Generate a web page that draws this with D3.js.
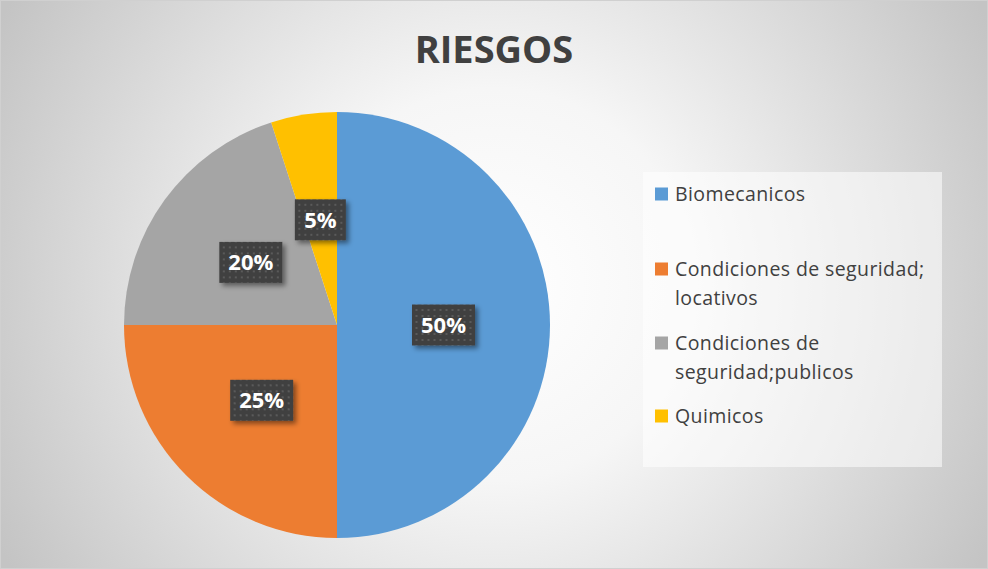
<!DOCTYPE html>
<html><head><meta charset="utf-8">
<script src="https://cdn.jsdelivr.net/npm/d3@7"></script>
<style>html,body{margin:0;padding:0;background:#fff}svg{display:block}</style>
</head><body>
<svg id="c" width="988" height="569"></svg>
<script>
const title = "RIESGOS";
const categories = ["Biomecanicos", "Condiciones de seguridad; locativos", "Condiciones de seguridad;publicos", "Quimicos"];
const legendLines = [["Biomecanicos"], ["Condiciones de seguridad;", "locativos"], ["Condiciones de", "seguridad;publicos"], ["Quimicos"]];
const values = [50, 25, 20, 5];
const colors = ["#5B9BD5", "#ED7D31", "#A5A5A5", "#FFC000"];

const W = 988, H = 569;
const svg = d3.select("#c");
const defs = svg.append("defs");

const rg = defs.append("radialGradient").attr("id","bg").attr("gradientUnits","userSpaceOnUse")
  .attr("cx", W/2).attr("cy", H/2).attr("r", 560);
rg.append("stop").attr("offset","0").attr("stop-color","#ffffff");
rg.append("stop").attr("offset","0.35").attr("stop-color","#f6f6f6");
rg.append("stop").attr("offset","1").attr("stop-color","#c4c4c4");

const pat = defs.append("pattern").attr("id","dots").attr("patternUnits","userSpaceOnUse")
  .attr("width",6).attr("height",6);
pat.append("rect").attr("width",6).attr("height",6).attr("fill","#404040");
pat.append("rect").attr("x",2).attr("y",2).attr("width",2).attr("height",2).attr("fill","#5a5a5a");

const f = defs.append("filter").attr("id","sh").attr("x","-30%").attr("y","-30%").attr("width","160%").attr("height","160%");
f.append("feDropShadow").attr("dx",3).attr("dy",3).attr("stdDeviation",2.5).attr("flood-color","#000").attr("flood-opacity",0.45);

svg.append("rect").attr("x",0.5).attr("y",0.5).attr("width",W-1).attr("height",H-1)
  .attr("fill","url(#bg)").attr("stroke","#d0d0d0");

svg.append("text").attr("x",494).attr("y",63).attr("text-anchor","middle")
  .attr("font-family","'Open Sans', sans-serif").attr("font-weight",700).attr("font-size",38)
  .attr("fill","#404040").text(title);

const cx = 337, cy = 325, r = 213;
const pie = d3.pie().sort(null).value(d => d)(values);
const arc = d3.arc().innerRadius(0).outerRadius(r);
const g = svg.append("g").attr("transform",`translate(${cx},${cy})`);
g.selectAll("path").data(pie).join("path").attr("d",arc).attr("fill",(d,i)=>colors[i]);

const lblArc = d3.arc().innerRadius(r*0.5).outerRadius(r*0.5);
const bw = 63, bh = 41;
const lg = g.selectAll("g.l").data(pie).join("g").attr("class","l")
  .attr("transform", d => { const c = lblArc.centroid(d); return `translate(${c[0]},${c[1]})`; });
lg.append("rect").attr("x", d => -(d.data>=10?bw:51)/2).attr("y",-bh/2)
  .attr("width", d => d.data>=10?bw:51).attr("height",bh)
  .attr("fill","url(#dots)").attr("filter","url(#sh)");
lg.append("text").attr("text-anchor","middle").attr("dy","0.36em")
  .attr("font-family","'Open Sans', sans-serif").attr("font-weight",700).attr("font-size",22)
  .attr("fill","#fff").text(d => d.data + "%");

// legend
const leg = svg.append("g");
leg.append("rect").attr("x",643).attr("y",172).attr("width",299).attr("height",295)
  .attr("fill","#ffffff").attr("fill-opacity",0.55);
const itemY = [194, 269, 343, 416];
legendLines.forEach((lines,i) => {
  leg.append("rect").attr("x",655).attr("y",itemY[i]-6.5).attr("width",13).attr("height",13).attr("fill",colors[i]);
  lines.forEach((t,j) => {
    leg.append("text").attr("x",675).attr("y",itemY[i] + j*29).attr("dy","0.35em")
      .attr("font-family","'Open Sans', sans-serif").attr("font-size",19.5).attr("letter-spacing",0.4)
      .attr("fill","#404040").text(t);
  });
});
</script>
</body></html>
